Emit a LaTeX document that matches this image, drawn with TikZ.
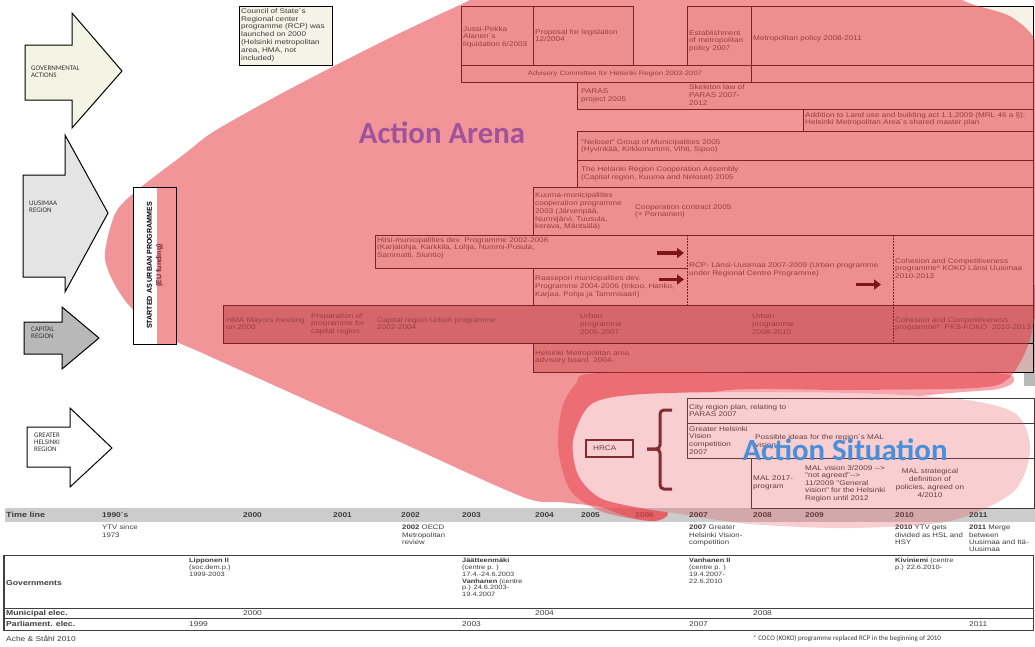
\documentclass[tikz,border=0pt]{standalone}
\usepackage{fontspec}
\setmainfont{Liberation Sans}
\newfontfamily\arl{Liberation Sans}[FakeStretch=1.2]
\newfontfamily\arlplain{Liberation Sans}
\newfontfamily\calfont{Carlito}
\usetikzlibrary{arrows.meta}
\definecolor{txt}{RGB}{60,60,60}
\definecolor{cream}{RGB}{244,243,230}
\definecolor{arenared}{RGB}{233,62,71}
\definecolor{capfill}{RGB}{190,155,152}
\definecolor{advfill}{RGB}{213,178,175}
\definecolor{titlepurple}{RGB}{160,82,155}
\definecolor{titleblue}{RGB}{74,143,217}
\definecolor{tlgrey}{RGB}{204,204,204}
\definecolor{govfill}{RGB}{244,244,228}
\definecolor{uusfill}{RGB}{228,228,228}
\definecolor{capafill}{RGB}{184,184,184}
\definecolor{brk}{RGB}{95,40,40}
\definecolor{darkarrow}{RGB}{125,20,25}
\definecolor{edgegrey}{RGB}{185,185,185}
\tikzset{
  tx/.style={anchor=north west, inner sep=0pt, align=left, text=txt, font=\arl\fontsize{6.8}{7.8}\selectfont},
  txs/.style={tx, font=\arl\fontsize{6.5}{7.3}\selectfont},
  txg/.style={tx, font=\arl\fontsize{6.2}{6.8}\selectfont},
  lab/.style={anchor=west, inner sep=0pt, text=txt, font=\arl\bfseries\fontsize{7.2}{8}\selectfont},
  yr/.style={anchor=west, inner sep=0pt, text=txt, font=\arl\fontsize{7}{8}\selectfont},
  yrb/.style={anchor=west, inner sep=0pt, text=txt, font=\arl\bfseries\fontsize{7}{8}\selectfont},
  cbox/.style={draw=black, line width=0.7pt, fill=cream},
  lbox/.style={draw=txt, line width=0.7pt},
  arrowshape/.style={draw=black, line width=1pt, line join=miter},
  arrowlab/.style={anchor=north west, inner sep=0pt, align=left, text=black!80, font=\calfont\fontsize{7}{7}\selectfont},
  blob/.style={fill=arenared, fill opacity=0.55},
  thickarrow/.style={draw=darkarrow, line width=3.5pt, -{Triangle[length=7pt,width=10pt]}},
  dashline/.style={draw=black, line width=0.6pt, dash pattern=on 1.5pt off 1.5pt},
  bigtitle/.style={inner sep=0pt, font=\calfont\bfseries\fontsize{30.8}{31}\selectfont},
}
\begin{document}
\begin{tikzpicture}[x=1pt,y=-1pt]
\useasboundingbox (0,0) rectangle (1035,646);
\fill[white] (0,0) rectangle (1035,646);
\fill[edgegrey] (1024,285) rectangle (1035,386);

% ---------------- time line ----------------
\fill[tlgrey] (5,508) rectangle (1035,522);
\node[lab, font=\arl\bfseries\fontsize{7.5}{8}\selectfont] (tlT) at (6,515) {Time line};
\foreach \xx/\lbl [count=\i] in {102/1990´s,243/2000,333/2001,401/2002,462/2003,535/2004,581/2005,635/2006,689/2007,753/2008,805/2009,895/2010,969/2011}
  \node[yrb] (yr\i) at (\xx,515) {\lbl};
\node[txs] (ev1) at (102,525) {YTV since\\1973};
\node[txs] (ev2) at (402,525) {\textbf{2002} OECD\\Metropolitan\\review};
\node[txs] (ev3) at (689,525) {\textbf{2007} Greater\\Helsinki Vision-\\competition};
\node[txs] (ev4) at (895,525) {\textbf{2010} YTV gets\\divided as HSL and\\HSY};
\node[txs] (ev5) at (969,525) {\textbf{2011} Merge\\between\\Uusimaa and Itä-\\Uusimaa};

% ---------------- table ----------------
\draw[black!75, line width=0.6pt] (4,555.5) -- (1033,555.5) (4,608.3) -- (1033,608.3) (4,618.3) -- (1033,618.3) (4,630) -- (1033,630);
\draw[black!75, line width=1.3pt] (4,555) -- (4,630.5);
\draw[black!75, line width=0.8pt] (1033,555) -- (1033,630.5);
\node[lab] (gov) at (6,583) {Governments};
\node[txg] (g1) at (189,558) {\textbf{Lipponen II}\\(soc.dem.p.)\\1999-2003};
\node[txg] (g2) at (462,558) {\textbf{Jäätteenmäki}\\(centre p. )\\17.4.-24.6.2003\\\textbf{Vanhanen} (centre\\p.) 24.6.2003-\\19.4.2007};
\node[txg] (g3) at (689,558) {\textbf{Vanhanen II}\\(centre p. )\\19.4.2007-\\22.6.2010};
\node[txg] (g4) at (895,558) {\textbf{Kiviniemi} (centre\\p.) 22.6.2010-};
\node[lab] (mun) at (6,613.3) {Municipal elec.};
\node[yr] (m1) at (243,613.3) {2000};
\node[yr] (m2) at (535,613.3) {2004};
\node[yr] (m3) at (753,613.3) {2008};
\node[lab] (par) at (6,624.2) {Parliament. elec.};
\node[yr] (p1) at (189,624.2) {1999};
\node[yr] (p2) at (462,624.2) {2003};
\node[yr] (p3) at (689,624.2) {2007};
\node[yr] (p4) at (969,624.2) {2011};
\node[yr] (src) at (6,639) {Ache \& Ståhl 2010};
\node[anchor=west, inner sep=0pt, font=\calfont\fontsize{7}{8}\selectfont, text=txt] (fn) at (753,639) {* COCO (KOKO) programme replaced RCP in the beginning of 2010};

% ---------------- upper boxes ----------------
\draw[cbox] (239,6) rectangle (332,65);
\draw[cbox] (461,6) rectangle (533,65);
\draw[cbox] (533,6) rectangle (633,65);
\draw[cbox] (687,6) rectangle (751,65);
\draw[cbox] (751,6) rectangle (1033,65);
\draw[cbox] (461,65) rectangle (751,82);
\draw[cbox] (751,65) rectangle (1033,82);
\draw[cbox] (577,82) rectangle (1033,109);
\draw[cbox] (803,109) rectangle (1033,131);
\draw[cbox] (577,131) rectangle (1033,160);
\draw[cbox] (577,160) rectangle (1033,187);
\draw[cbox] (533,187) rectangle (1033,235);
\fill[cream] (375,235) rectangle (1033,268);
\fill[cream] (533,268) rectangle (1033,305);
\draw[black, line width=0.7pt] (375,235) -- (1033,235) -- (1033,305);
\draw[black, line width=0.7pt] (375,235) -- (375,268) -- (687,268);
\draw[black, line width=0.7pt] (533,268) -- (533,305);
\draw[cbox, fill=capfill] (223,305) rectangle (1033,343);
\draw[dashline] (687,235) -- (687,305);
\draw[dashline] (893,235) -- (893,343);
\draw[cbox, fill=advfill] (533,343) rectangle (1033,372);

\node[tx] (tCouncil) at (241,8) {Council of State´s\\Regional center\\programme (RCP) was\\launched on 2000\\(Helsinki metropolitan\\area, HMA, not\\included)};
\node[tx] (tJussi) at (463,26) {Jussi-Pekka\\Alanen´s\\liquidation 6/2003};
\node[tx] (tProp) at (535,29) {Proposal for legislation\\12/2004};
\node[tx] (tEst) at (689,30) {Establishment\\of metropolitan\\policy 2007};
\node[tx] (tMet) at (753,35) {Metropolitan policy 2008-2011};
\node[tx, anchor=center, font=\arl\fontsize{6.4}{7.5}\selectfont] (tAdv) at (615,73.5) {Advisory Committee for Helsinki Region 2003-2007};
\node[tx] (tPar) at (581,89) {PARAS\\project 2005};
\node[tx] (tSkel) at (689,84.5) {Skeleton law of\\PARAS 2007-\\2012};
\node[tx] (tAdd) at (805,112) {Addition to Land use and building act 1.1.2009 (MRL 46 a §):\\Helsinki Metropolitan Area´s shared master plan};
\node[tx] (tNel) at (581,139) {"Neloset" Group of Municipalities 2005\\(Hyvinkää, Kirkkonummi, Vihti, Sipoo)};
\node[tx] (tHRA) at (581,166.5) {The Helsinki Region Cooperation Assembly\\(Capital region, Kuuma and Neloset) 2005};
\node[tx] (tKuu) at (535,192.5) {Kuuma-municipalities\\cooperation programme\\2003 (Järvenpää,\\Nurmijärvi, Tuusula,\\kerava, Mäntsälä)};
\node[tx] (tCoop) at (635,204) {Cooperation contract 2005\\(+ Pornainen)};
\node[tx] (tHii) at (377,237) {Hiisi-municipalities dev. Programme 2002-2006\\(Karjalohja, Karkkila, Lohja, Nummi-Pusula,\\Sammatti, Siuntio)};
\node[tx] (tRaa) at (535,275.5) {Raasepori municipalities dev.\\Programme 2004-2006 (Inkoo, Hanko,\\Karjaa, Pohja ja Tammisaari)};
\node[tx] (tRCP) at (689,262.5) {RCP- Länsi-Uusimaa 2007-2009 (Urban programme\\under Regional Centre Programme)};
\node[tx] (tKOKO) at (895,258) {Cohesion and Competitiveness\\programme* KOKO Länsi Uusimaa\\2010-2013};
\node[tx] (tHMA) at (226,317) {HMA Mayors meeting\\on 2000};
\node[tx] (tPrep) at (311,313) {Preparation of\\programme for\\capital region};
\node[tx] (tCRU) at (377,317) {Capital region Urban programme\\2002-2004};
\node[tx] (tU1) at (580,313.5) {Urban\\programme\\2005-2007};
\node[tx] (tU2) at (752,313.5) {Urban\\programme\\2008-2010};
\node[tx] (tPKS) at (895,317) {Cohesion and Competitiveness\\programme*\ \ PKS-KOKO\ \ 2010-2013};
\node[tx] (tHMB) at (535,350) {Helsinki Metropolitan area\\advisory board\ \ 2004-};

% ---------------- lower boxes ----------------
\draw[lbox] (687,398) rectangle (1034.5,423);
\draw[lbox] (687,423) rectangle (1034.5,458);
\draw[lbox] (751,458) rectangle (1034.5,508);
\node[tx] (tCity) at (689,404) {City region plan, relating to\\PARAS 2007};
\node[tx] (tGHV) at (689,426) {Greater Helsinki\\Vision\\competition\\2007};
\node[tx] (tPos) at (755,434) {Possible ideas for the region´s MAL\\vision};
\node[tx] (tMAL) at (753,476) {MAL 2017-\\program};
\node[tx, font=\arl\fontsize{6.8}{7.5}\selectfont] (tMV) at (805,465) {MAL vision 3/2009 -{}->\\"not agreed"-{}->\\11/2009 "General\\vision" for the Helsinki\\Region until 2012};
\node[tx, align=center, anchor=north] (tMS) at (930,468.5) {MAL strategical\\definition of\\policies, agreed on\\4/2010};
\draw[brk, line width=1.2pt] (586,440) rectangle (633,457);
\node[tx, anchor=west] (tHRCA) at (593,448.5) {HRCA};
\draw[brk, line width=3pt, rounded corners=4pt] (672,410) -- (660,410) -- (660,449) -- (647,449);
\draw[brk, line width=3pt, rounded corners=4pt] (647,449) -- (660,449) -- (660,489) -- (672,489);

% ---------------- level arrows ----------------
\filldraw[arrowshape, fill=govfill] (25,45) -- (72,45) -- (72,13) -- (122,71) -- (72,128) -- (72,100) -- (25,100) -- cycle;
\node[arrowlab] (aGov) at (31,66) {GOVERNMENTAL\\ACTIONS};
\filldraw[arrowshape, fill=uusfill] (23,175) -- (65,175) -- (65,135) -- (108,213) -- (65,292) -- (65,277) -- (23,277) -- cycle;
\node[arrowlab] (aUus) at (29,201) {UUSIMAA\\REGION};
\filldraw[arrowshape, fill=capafill] (24,322) -- (62,322) -- (62,307) -- (99,338) -- (62,369) -- (62,354) -- (24,354) -- cycle;
\node[arrowlab] (aCap) at (31,327) {CAPITAL\\REGION};
\filldraw[arrowshape, fill=white] (27,427) -- (70,427) -- (70,408) -- (112,448) -- (70,487) -- (70,467) -- (27,467) -- cycle;
\node[arrowlab] (aGhr) at (34,433) {GREATER\\HELSINKI\\REGION};

% ---------------- blobs ----------------
\begin{scope}
\clip (-60,-120) -- (1100,-120) -- (1100,700) -- (-60,700) -- cycle
  plot[smooth cycle] coordinates {(1030,450) (1016,414) (960,399) (850,393) (720,392) (630,395) (590,405) (573,440) (578,475) (600,498) (640,508) (680,514) (750,524) (850,528) (950,521) (1013,492)};
\fill[blob] plot[smooth cycle] coordinates {(105,252) (116,212) (140,188) (187,152) (213,132) (275,97) (340,63) (400,33) (460,5) (540,-30) (720,-50) (900,-40) (962,0) (1013,18) (1040,55) (1047,180) (1038,295) (1028,345) (1008,379) (975,388) (850,390) (720,391) (640,420) (625,470) (650,500) (668,514) (655,521) (628,517) (600,507) (560,502) (523,497) (400,442) (300,397) (240,370) (200,352) (157,332) (127,303) (110,275)};
\fill[blob, fill opacity=0.45] plot[smooth cycle] coordinates {(600,373) (800,373) (990,373) (1014,380) (998,389) (940,394) (800,410) (680,440) (655,480) (668,512) (655,521) (628,518) (598,510) (570,490) (558,448) (562,408) (576,384)};
\end{scope}
\fill[arenared, fill opacity=0.25] plot[smooth cycle] coordinates {(1030,450) (1016,414) (960,399) (850,393) (720,392) (630,395) (590,405) (573,440) (578,475) (600,498) (640,508) (680,514) (750,524) (850,528) (950,521) (1013,492)};

% ---------------- started box ----------------
\fill[white] (133,187) rectangle (176,344);
\node[rotate=90, align=center, inner sep=0pt, font=\arlplain\bfseries\fontsize{7.1}{9.5}\selectfont] (started) at (155,265.5) {STARTED AS URBAN PROGRAMMES\\(EU funding)};
\fill[blob] (157,187.5) rectangle (175.5,343.5);
\draw[black, line width=1pt] (133,187) rectangle (176,344);

% ---------------- dark arrows ----------------
\coordinate (h1a) at (657,253); \coordinate (h1b) at (684,253);
\coordinate (h2a) at (659,279.5); \coordinate (h2b) at (684,279.5);
\coordinate (h3a) at (856,284.5); \coordinate (h3b) at (881,284.5);
\draw[thickarrow] (h1a) -- (h1b);
\draw[thickarrow] (h2a) -- (h2b);
\draw[thickarrow] (h3a) -- (h3b);

% ---------------- titles ----------------
\node[bigtitle, text=titlepurple] (arenaT) at (442,133) {Action Arena};
\node[bigtitle, text=titleblue] (situT) at (845,450) {Action Situation};
\end{tikzpicture}
\end{document}
